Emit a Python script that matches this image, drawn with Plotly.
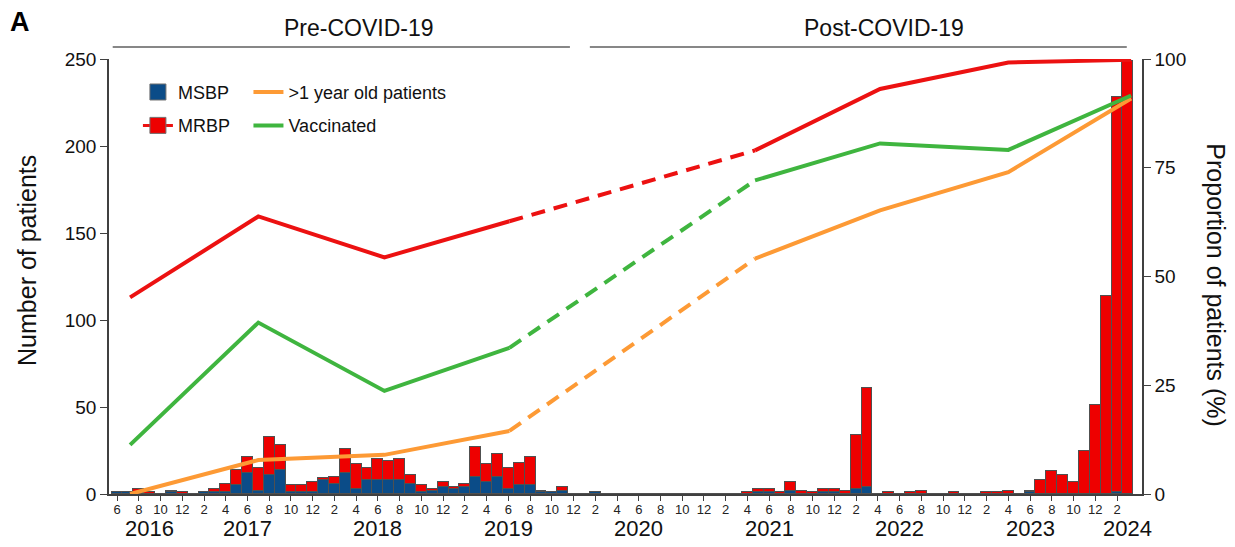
import plotly.graph_objects as go
import pandas as pd

# ---------------- data ----------------
months = pd.period_range('2016-06', '2024-03', freq='M')

msbp = [1, 1, 1, 0, 0, 1, 0, 0, 1, 1, 1, 5, 12, 2, 11, 14, 1, 1, 1, 8,
        6, 12, 3, 8, 8, 8, 8, 6, 1, 2, 4, 3, 4, 10, 7, 10, 3, 5, 5, 1,
        1, 2, 0, 0, 1, 0, 0, 0, 0, 0, 0, 0, 0, 0, 0, 0, 0, 0, 0, 1,
        1, 0, 2, 0, 0, 1, 1, 0, 3, 4, 0, 0, 0, 0, 0, 0, 0, 0, 0, 0,
        0, 0, 0, 0, 1, 0, 0, 0, 0, 0, 0, 0, 1, 0]
mrbp = [0, 0, 2, 1, 0, 1, 1, 0, 0, 2, 5, 9, 9, 13, 22, 14, 4, 4, 6, 1,
        4, 14, 14, 7, 12, 11, 12, 5, 4, 1, 3, 1, 2, 17, 10, 13, 12, 13, 16, 1,
        0, 2, 0, 0, 0, 0, 0, 0, 0, 0, 0, 0, 0, 0, 0, 0, 0, 0, 1, 2,
        2, 1, 5, 2, 1, 2, 2, 2, 31, 57, 0, 1, 0, 1, 2, 0, 0, 1, 0, 0,
        1, 1, 2, 0, 1, 8, 13, 11, 7, 25, 51, 114, 227, 249]

# dates of the yearly proportion estimates
period_dates = ['2016-07-07', '2017-07-01', '2018-06-19', '2019-06-04',
                '2021-04-22', '2022-04-07', '2023-04-01', '2024-03-10']
prop_mrbp = [45.2, 63.8, 54.4, 62.7, 79.0, 93.1, 99.2, 99.8]
prop_over1y = [0.0, 7.8, 9.0, 14.5, 54.1, 65.2, 74.0, 90.9]
prop_vacc = [11.3, 39.4, 23.7, 33.6, 72.1, 80.6, 79.1, 91.6]

year_labels = ['2016', '2017', '2018', '2019', '2020', '2021', '2022', '2023', '2024']
year_label_months = ['2016-09', '2017-06', '2018-06', '2019-06', '2020-06',
                     '2021-06', '2022-06', '2023-06', '2024-03']

# ---------------- helpers ----------------
start = months[0]


def month_index(s):
    parts = [int(v) for v in s.split('-')]
    y, m = parts[0], parts[1]
    d = parts[2] if len(parts) > 2 else 1
    return (y - start.year) * 12 + (m - start.month) + (d - 1) / 30.0


x_bar = list(range(len(months)))
x_prop = [month_index(d) for d in period_dates]

FONT = 'Liberation Sans, Arial, sans-serif'
BLUE = '#0b4c88'
RED = '#ee0000'
REDLINE = '#ec1111'
ORANGE = '#fd9a35'
GREEN = '#3fb53f'
AXC = '#404040'

fig = go.Figure()

fig.add_trace(go.Bar(x=x_bar, y=msbp, name='MSBP', marker=dict(color=BLUE, line=dict(color='#505050', width=1)),
                     width=1.0, showlegend=False))
fig.add_trace(go.Bar(x=x_bar, y=mrbp, name='MRBP', marker=dict(color=RED, line=dict(color='#505050', width=1)),
                     width=1.0, showlegend=False))


def add_line(vals, color, name, legend):
    pre_x, pre_y = x_prop[:4], vals[:4]
    mid_x, mid_y = x_prop[3:5], vals[3:5]
    post_x, post_y = x_prop[4:], vals[4:]
    fig.add_trace(go.Scatter(x=pre_x, y=pre_y, yaxis='y2', mode='lines', line=dict(color=color, width=4),
                             showlegend=False, cliponaxis=False))
    fig.add_trace(go.Scatter(x=mid_x, y=mid_y, yaxis='y2', mode='lines',
                             line=dict(color=color, width=4, dash='14px,9px'), showlegend=False, cliponaxis=False))
    fig.add_trace(go.Scatter(x=post_x, y=post_y, yaxis='y2', mode='lines', line=dict(color=color, width=4),
                             name=name, showlegend=legend is not None, legend=legend or 'legend',
                             legendgroup=name, cliponaxis=False))


add_line(prop_mrbp, REDLINE, 'MRBP line', None)
add_line(prop_over1y, ORANGE, '>1 year old patients', 'legend2')
add_line(prop_vacc, GREEN, 'Vaccinated', 'legend2')

# legend-only entries
fig.add_trace(go.Scatter(x=[None], y=[None], mode='markers', name='MSBP', legendgroup='MSBP',
                         marker=dict(symbol='square', size=16, color=BLUE, line=dict(color='#707070', width=1)),
                         legend='legend'))
fig.add_trace(go.Scatter(x=[None], y=[None], mode='lines+markers', name='MRBP', legendgroup='MRBP',
                         marker=dict(symbol='square', size=16, color=RED, line=dict(color='#707070', width=1)),
                         line=dict(color=REDLINE, width=3), legend='legend'))

# annotations
ann = []
for lab, m in zip(year_labels, year_label_months):
    ann.append(dict(x=month_index(m), y=-0.079, xref='x', yref='paper', text=lab, showarrow=False,
                    font=dict(size=22, color='#111', family=FONT), xanchor='center', yanchor='middle'))
ann.append(dict(x=month_index('2018-04-10'), y=1.071, xref='x', yref='paper', text='Pre-COVID-19',
                showarrow=False, font=dict(size=23, color='#111', family=FONT), yanchor='middle'))
ann.append(dict(x=month_index('2022-04-17'), y=1.071, xref='x', yref='paper', text='Post-COVID-19',
                showarrow=False, font=dict(size=23, color='#111', family=FONT), yanchor='middle'))
ann.append(dict(x=-0.0975, y=1.085, xref='paper', yref='paper', text='<b>A</b>', showarrow=False,
                font=dict(size=27, color='#000', family=FONT), xanchor='left', yanchor='middle'))
ann.append(dict(x=-0.0794, y=0.538, xref='paper', yref='paper', text='Number of patients', showarrow=False,
                textangle=-90, font=dict(size=25, color='#111', family=FONT), xanchor='center', yanchor='middle'))
ann.append(dict(x=1.0715, y=0.480, xref='paper', yref='paper',
                text='Propor\u200ction of pa\u200ctients (%)',
                showarrow=False, textangle=90, font=dict(size=25, color='#111', family=FONT),
                xanchor='center', yanchor='middle'))

shapes = [
    dict(type='line', xref='x', yref='paper', x0=-0.4, x1=month_index('2019-11-21'), y0=1.0276, y1=1.0276,
         line=dict(color='#111', width=1.2)),
    dict(type='line', xref='x', yref='paper', x0=month_index('2020-01-16'), x1=month_index('2024-02-28'),
         y0=1.0276, y1=1.0276, line=dict(color='#111', width=1.2)),
]

# the page body adds an 8px offset, so the figure is 8px smaller and margins shifted
fig.update_layout(
    width=1227, height=539,
    margin=dict(l=101, r=93, t=51, b=53),
    paper_bgcolor='white', plot_bgcolor='white',
    barmode='stack', bargap=0,
    font=dict(family=FONT, color='#111'),
    xaxis=dict(range=[-0.74, 94.3], tickvals=x_bar[::2], ticktext=[str(p.month) for p in months[::2]],
               tickfont=dict(size=13, color='#222'), ticks='outside', ticklen=5, tickcolor=AXC,
               ticklabelstandoff=-2,
               showline=True, linecolor=AXC, linewidth=1.5, showgrid=False, zeroline=False, tickangle=0),
    yaxis=dict(range=[0, 250], tickvals=[0, 50, 100, 150, 200, 250], tickfont=dict(size=19, color='#111'),
               ticks='outside', ticklen=7, tickcolor=AXC, showline=True, linecolor=AXC, linewidth=1.5,
               showgrid=False, zeroline=False),
    yaxis2=dict(range=[0, 100], tickvals=[0, 25, 50, 75, 100], overlaying='y', side='right',
                tickfont=dict(size=19, color='#111'), ticks='outside', ticklen=7, tickcolor=AXC,
                showline=True, linecolor=AXC, linewidth=1.5, showgrid=False, zeroline=False),
    legend=dict(x=0.028, y=0.966, xanchor='left', yanchor='top', bgcolor='rgba(0,0,0,0)',
                font=dict(size=18, family=FONT, color='#111'), tracegroupgap=7, traceorder='grouped'),
    legend2=dict(x=0.135, y=0.966, xanchor='left', yanchor='top', bgcolor='rgba(0,0,0,0)',
                 font=dict(size=18, family=FONT, color='#111'), tracegroupgap=7, traceorder='grouped'),
    annotations=ann,
    shapes=shapes,
)

fig.write_html('out.html')
